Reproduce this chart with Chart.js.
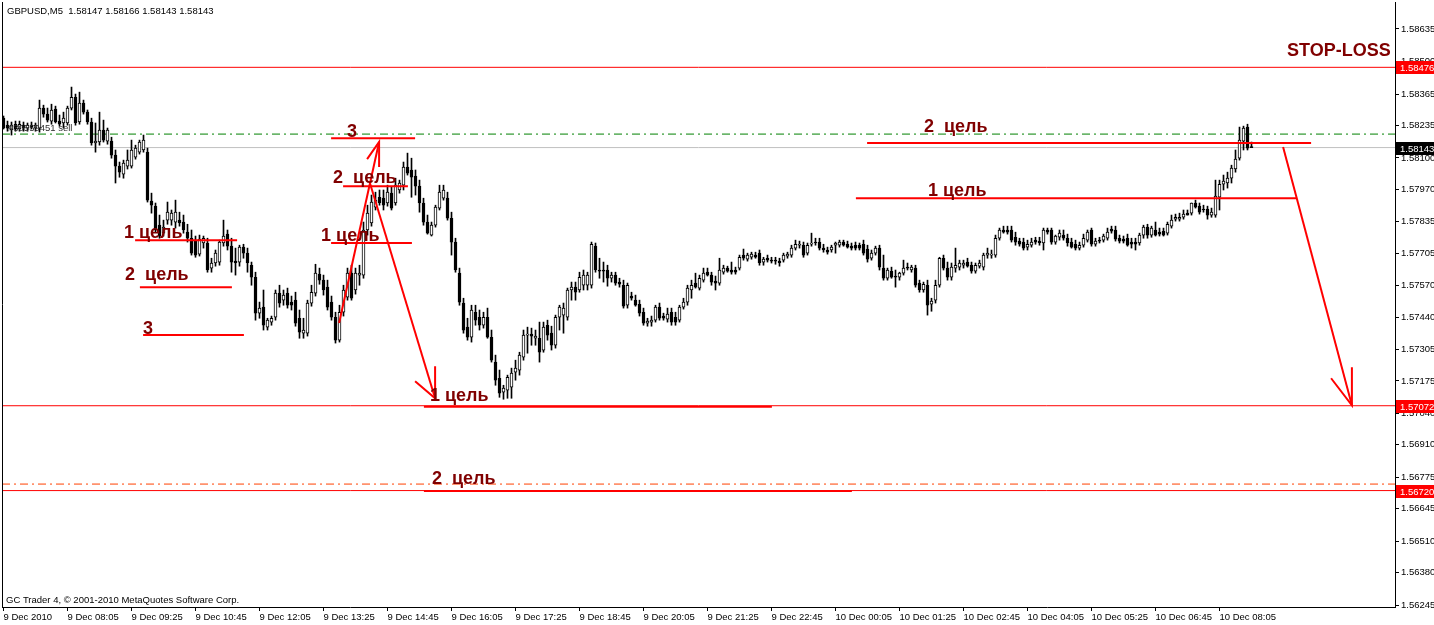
<!DOCTYPE html>
<html><head><meta charset="utf-8">
<script src="https://cdn.jsdelivr.net/npm/chart.js@4/dist/chart.umd.min.js"></script>
<style>html,body{margin:0;padding:0;background:#fff;overflow:hidden}canvas{display:block}</style>
</head><body>
<canvas id="c" width="1434" height="625"></canvas>
<script>
// ---- GBPUSD M5 candles (bar 0 = 9 Dec 2010 06:45, step 5 min) ----
const barOpen = [1.58265,1.58236,1.58216,1.58240,1.58220,1.58236,1.58224,1.58236,1.58224,1.58224,
1.58307,1.58282,1.58253,1.58303,1.58253,1.58245,1.58245,1.58307,1.58352,1.58249,
1.58328,1.58290,1.58249,1.58162,1.58166,1.58216,1.58170,1.58170,1.58112,1.58066,
1.58033,1.58066,1.58066,1.58103,1.58124,1.58133,1.58124,1.57921,1.57900,1.57821,
1.57788,1.57842,1.57842,1.57834,1.57842,1.57834,1.57792,1.57767,1.57759,1.57701,
1.57747,1.57747,1.57643,1.57664,1.57668,1.57747,1.57784,1.57734,1.57672,1.57668,
1.57730,1.57705,1.57655,1.57605,1.57456,1.57481,1.57398,1.57419,1.57439,1.57539,
1.57510,1.57539,1.57502,1.57510,1.57435,1.57373,1.57373,1.57498,1.57539,1.57618,
1.57593,1.57564,1.57502,1.57439,1.57344,1.57460,1.57522,1.57622,1.57552,1.57614,
1.57614,1.57801,1.57830,1.57896,1.57937,1.57933,1.57913,1.57954,1.57913,1.57967,
1.57987,1.58062,1.58050,1.58025,1.57983,1.57913,1.57834,1.57780,1.57821,1.57892,
1.57933,1.57933,1.57850,1.57751,1.57622,1.57498,1.57398,1.57356,1.57460,1.57439,
1.57406,1.57439,1.57356,1.57253,1.57186,1.57128,1.57137,1.57149,1.57211,1.57220,
1.57273,1.57365,1.57369,1.57352,1.57352,1.57303,1.57406,1.57373,1.57323,1.57439,
1.57448,1.57439,1.57552,1.57564,1.57552,1.57572,1.57572,1.57572,1.57734,1.57635,
1.57635,1.57635,1.57601,1.57614,1.57585,1.57572,1.57489,1.57527,1.57510,1.57493,
1.57460,1.57415,1.57419,1.57427,1.57481,1.57444,1.57431,1.57460,1.57439,1.57427,
1.57481,1.57502,1.57552,1.57581,1.57560,1.57593,1.57626,1.57614,1.57589,1.57581,
1.57626,1.57643,1.57635,1.57635,1.57643,1.57697,1.57680,1.57688,1.57697,1.57705,
1.57668,1.57684,1.57676,1.57676,1.57672,1.57676,1.57693,1.57697,1.57726,1.57738,
1.57738,1.57705,1.57742,1.57751,1.57751,1.57726,1.57718,1.57718,1.57738,1.57738,
1.57751,1.57742,1.57734,1.57738,1.57738,1.57742,1.57722,1.57684,1.57705,1.57726,
1.57643,1.57601,1.57630,1.57610,1.57605,1.57622,1.57647,1.57635,1.57643,1.57581,
1.57552,1.57572,1.57493,1.57510,1.57572,1.57684,1.57643,1.57605,1.57643,1.57647,
1.57655,1.57668,1.57655,1.57630,1.57651,1.57647,1.57697,1.57697,1.57697,1.57767,
1.57801,1.57801,1.57801,1.57771,1.57755,1.57751,1.57730,1.57738,1.57759,1.57755,
1.57747,1.57801,1.57801,1.57751,1.57771,1.57780,1.57767,1.57751,1.57742,1.57726,
1.57738,1.57759,1.57801,1.57742,1.57759,1.57759,1.57767,1.57805,1.57801,1.57767,
1.57763,1.57767,1.57751,1.57751,1.57747,1.57780,1.57813,1.57780,1.57801,1.57792,
1.57796,1.57788,1.57817,1.57846,1.57846,1.57854,1.57871,1.57871,1.57913,1.57900,
1.57888,1.57888,1.57863,1.57863,1.57937,1.57991,1.57996,1.58016,1.58054,1.58099,
1.58170,1.58228,1.58147];
const barHigh = [1.58274,1.58253,1.58249,1.58253,1.58253,1.58249,1.58245,1.58249,1.58245,1.58340,
1.58319,1.58307,1.58323,1.58315,1.58278,1.58290,1.58315,1.58394,1.58365,1.58373,
1.58340,1.58299,1.58265,1.58245,1.58290,1.58257,1.58224,1.58186,1.58133,1.58083,
1.58091,1.58133,1.58174,1.58153,1.58174,1.58195,1.58141,1.57954,1.57913,1.57863,
1.57842,1.57917,1.57884,1.57925,1.57875,1.57863,1.57825,1.57801,1.57776,1.57780,
1.57776,1.57767,1.57684,1.57718,1.57759,1.57842,1.57801,1.57767,1.57726,1.57738,
1.57742,1.57726,1.57668,1.57626,1.57502,1.57552,1.57435,1.57444,1.57552,1.57572,
1.57552,1.57560,1.57527,1.57543,1.57469,1.57435,1.57510,1.57572,1.57659,1.57643,
1.57614,1.57593,1.57527,1.57460,1.57489,1.57572,1.57643,1.57655,1.57643,1.57655,
1.57834,1.57904,1.57946,1.57958,1.57967,1.57967,1.57987,1.57979,1.58016,1.58008,
1.58083,1.58120,1.58099,1.58050,1.58008,1.57933,1.57863,1.57834,1.57904,1.57987,
1.57987,1.57958,1.57875,1.57767,1.57643,1.57518,1.57435,1.57489,1.57489,1.57469,
1.57460,1.57477,1.57386,1.57282,1.57220,1.57157,1.57199,1.57228,1.57261,1.57294,
1.57386,1.57398,1.57394,1.57386,1.57419,1.57419,1.57427,1.57402,1.57448,1.57489,
1.57498,1.57560,1.57585,1.57585,1.57626,1.57635,1.57626,1.57751,1.57747,1.57684,
1.57668,1.57655,1.57626,1.57626,1.57601,1.57593,1.57581,1.57543,1.57531,1.57510,
1.57477,1.57435,1.57444,1.57489,1.57498,1.57456,1.57477,1.57477,1.57460,1.57489,
1.57518,1.57572,1.57593,1.57622,1.57614,1.57643,1.57643,1.57626,1.57610,1.57684,
1.57655,1.57651,1.57668,1.57647,1.57697,1.57722,1.57705,1.57709,1.57709,1.57718,
1.57688,1.57697,1.57688,1.57688,1.57684,1.57705,1.57709,1.57738,1.57759,1.57755,
1.57751,1.57747,1.57788,1.57767,1.57767,1.57742,1.57730,1.57738,1.57751,1.57759,
1.57759,1.57755,1.57747,1.57751,1.57747,1.57759,1.57738,1.57718,1.57734,1.57738,
1.57697,1.57643,1.57647,1.57635,1.57626,1.57676,1.57664,1.57655,1.57655,1.57593,
1.57585,1.57593,1.57518,1.57593,1.57688,1.57697,1.57668,1.57664,1.57726,1.57676,
1.57676,1.57684,1.57668,1.57664,1.57676,1.57705,1.57726,1.57718,1.57780,1.57809,
1.57817,1.57817,1.57817,1.57792,1.57767,1.57767,1.57759,1.57767,1.57771,1.57771,
1.57809,1.57809,1.57809,1.57780,1.57801,1.57801,1.57784,1.57767,1.57759,1.57751,
1.57784,1.57801,1.57809,1.57767,1.57771,1.57784,1.57809,1.57817,1.57817,1.57780,
1.57776,1.57784,1.57767,1.57767,1.57788,1.57821,1.57825,1.57817,1.57834,1.57809,
1.57809,1.57834,1.57863,1.57867,1.57871,1.57884,1.57884,1.57913,1.57925,1.57913,
1.57904,1.57900,1.57892,1.58008,1.58008,1.58029,1.58041,1.58070,1.58133,1.58228,
1.58232,1.58240,1.58166];
const barLow = [1.58220,1.58211,1.58195,1.58211,1.58211,1.58211,1.58211,1.58220,1.58211,1.58207,
1.58269,1.58249,1.58240,1.58245,1.58232,1.58224,1.58236,1.58299,1.58236,1.58240,
1.58282,1.58240,1.58153,1.58124,1.58153,1.58166,1.58157,1.58099,1.57996,1.58020,
1.58016,1.58054,1.58058,1.58095,1.58116,1.58124,1.57917,1.57871,1.57792,1.57767,
1.57776,1.57825,1.57821,1.57809,1.57817,1.57788,1.57751,1.57697,1.57688,1.57693,
1.57726,1.57626,1.57626,1.57651,1.57655,1.57734,1.57718,1.57626,1.57614,1.57651,
1.57684,1.57626,1.57572,1.57427,1.57435,1.57386,1.57386,1.57406,1.57427,1.57481,
1.57489,1.57477,1.57469,1.57402,1.57352,1.57352,1.57361,1.57485,1.57527,1.57576,
1.57531,1.57469,1.57427,1.57332,1.57336,1.57444,1.57510,1.57510,1.57535,1.57572,
1.57601,1.57780,1.57817,1.57884,1.57904,1.57884,1.57900,1.57884,1.57904,1.57954,
1.57967,1.58029,1.57937,1.57946,1.57875,1.57821,1.57784,1.57776,1.57813,1.57884,
1.57925,1.57842,1.57697,1.57626,1.57489,1.57373,1.57344,1.57336,1.57406,1.57386,
1.57394,1.57352,1.57253,1.57157,1.57107,1.57099,1.57103,1.57103,1.57178,1.57199,
1.57261,1.57290,1.57323,1.57323,1.57253,1.57294,1.57344,1.57303,1.57311,1.57386,
1.57373,1.57427,1.57510,1.57510,1.57543,1.57552,1.57552,1.57560,1.57626,1.57601,
1.57585,1.57568,1.57585,1.57572,1.57564,1.57477,1.57477,1.57510,1.57485,1.57444,
1.57406,1.57402,1.57402,1.57419,1.57427,1.57427,1.57419,1.57406,1.57406,1.57419,
1.57473,1.57489,1.57518,1.57560,1.57552,1.57585,1.57610,1.57572,1.57552,1.57572,
1.57618,1.57626,1.57618,1.57618,1.57635,1.57676,1.57672,1.57680,1.57684,1.57655,
1.57655,1.57668,1.57664,1.57659,1.57651,1.57668,1.57684,1.57688,1.57718,1.57726,
1.57688,1.57697,1.57734,1.57738,1.57718,1.57709,1.57701,1.57709,1.57705,1.57730,
1.57734,1.57726,1.57718,1.57718,1.57718,1.57697,1.57668,1.57676,1.57697,1.57635,
1.57593,1.57593,1.57601,1.57564,1.57593,1.57614,1.57635,1.57626,1.57564,1.57543,
1.57543,1.57448,1.57464,1.57498,1.57564,1.57635,1.57593,1.57593,1.57626,1.57635,
1.57643,1.57647,1.57622,1.57622,1.57643,1.57635,1.57684,1.57684,1.57688,1.57759,
1.57788,1.57784,1.57751,1.57738,1.57734,1.57718,1.57718,1.57730,1.57742,1.57738,
1.57718,1.57784,1.57742,1.57742,1.57759,1.57759,1.57734,1.57726,1.57718,1.57718,
1.57730,1.57751,1.57734,1.57734,1.57747,1.57751,1.57759,1.57788,1.57755,1.57747,
1.57747,1.57734,1.57726,1.57718,1.57738,1.57767,1.57767,1.57771,1.57776,1.57776,
1.57776,1.57780,1.57809,1.57838,1.57838,1.57846,1.57863,1.57863,1.57892,1.57867,
1.57875,1.57846,1.57854,1.57854,1.57884,1.57967,1.57975,1.57996,1.58041,1.58091,
1.58133,1.58133,1.58143];
const barClose = [1.58224,1.58224,1.58236,1.58220,1.58240,1.58224,1.58236,1.58228,1.58236,1.58307,
1.58282,1.58257,1.58299,1.58249,1.58240,1.58265,1.58307,1.58352,1.58245,1.58328,
1.58290,1.58249,1.58162,1.58170,1.58216,1.58174,1.58216,1.58112,1.58066,1.58041,
1.58079,1.58091,1.58133,1.58141,1.58166,1.58174,1.57925,1.57904,1.57801,1.57776,
1.57813,1.57875,1.57871,1.57875,1.57830,1.57801,1.57767,1.57705,1.57697,1.57763,
1.57767,1.57635,1.57664,1.57705,1.57751,1.57776,1.57734,1.57668,1.57664,1.57730,
1.57705,1.57664,1.57605,1.57456,1.57477,1.57406,1.57427,1.57435,1.57539,1.57498,
1.57531,1.57489,1.57489,1.57415,1.57377,1.57386,1.57498,1.57543,1.57622,1.57593,
1.57552,1.57481,1.57439,1.57344,1.57460,1.57552,1.57622,1.57518,1.57622,1.57622,
1.57801,1.57871,1.57917,1.57925,1.57913,1.57904,1.57958,1.57892,1.57987,1.57996,
1.58062,1.58037,1.58020,1.57983,1.57913,1.57834,1.57788,1.57821,1.57896,1.57958,
1.57967,1.57850,1.57751,1.57635,1.57502,1.57386,1.57356,1.57469,1.57427,1.57406,
1.57439,1.57356,1.57261,1.57178,1.57124,1.57145,1.57190,1.57207,1.57228,1.57282,
1.57365,1.57369,1.57361,1.57361,1.57294,1.57398,1.57365,1.57323,1.57439,1.57481,
1.57477,1.57552,1.57564,1.57543,1.57605,1.57614,1.57614,1.57742,1.57635,1.57630,
1.57630,1.57601,1.57614,1.57581,1.57576,1.57485,1.57572,1.57518,1.57489,1.57456,
1.57415,1.57423,1.57427,1.57481,1.57435,1.57435,1.57452,1.57419,1.57419,1.57481,
1.57502,1.57560,1.57572,1.57564,1.57601,1.57622,1.57614,1.57585,1.57581,1.57635,
1.57643,1.57630,1.57626,1.57626,1.57688,1.57684,1.57697,1.57701,1.57688,1.57664,
1.57680,1.57676,1.57672,1.57672,1.57664,1.57697,1.57701,1.57726,1.57742,1.57742,
1.57697,1.57738,1.57747,1.57747,1.57726,1.57718,1.57709,1.57730,1.57747,1.57751,
1.57738,1.57730,1.57726,1.57726,1.57726,1.57705,1.57680,1.57705,1.57726,1.57647,
1.57601,1.57635,1.57605,1.57605,1.57622,1.57643,1.57643,1.57647,1.57572,1.57552,
1.57576,1.57489,1.57506,1.57572,1.57684,1.57643,1.57605,1.57647,1.57655,1.57664,
1.57664,1.57651,1.57630,1.57655,1.57664,1.57697,1.57705,1.57701,1.57767,1.57801,
1.57792,1.57792,1.57759,1.57751,1.57742,1.57726,1.57742,1.57751,1.57751,1.57747,
1.57801,1.57792,1.57751,1.57776,1.57788,1.57767,1.57747,1.57730,1.57726,1.57738,
1.57767,1.57792,1.57742,1.57755,1.57755,1.57776,1.57792,1.57796,1.57763,1.57755,
1.57755,1.57738,1.57742,1.57742,1.57780,1.57813,1.57780,1.57809,1.57780,1.57784,
1.57780,1.57825,1.57842,1.57854,1.57854,1.57867,1.57863,1.57913,1.57896,1.57875,
1.57884,1.57863,1.57875,1.57942,1.57991,1.58004,1.58016,1.58058,1.58095,1.58174,
1.58224,1.58141,1.58143];

// ---- axes ----
const xTickIndex = [0,16,32,48,64,80,96,112,128,144,160,176,192,208,224,240,256,272,288,304];
const xTickLabels = ['9 Dec 2010','9 Dec 08:05','9 Dec 09:25','9 Dec 10:45','9 Dec 12:05','9 Dec 13:25',
'9 Dec 14:45','9 Dec 16:05','9 Dec 17:25','9 Dec 18:45','9 Dec 20:05','9 Dec 21:25','9 Dec 22:45',
'10 Dec 00:05','10 Dec 01:25','10 Dec 02:45','10 Dec 04:05','10 Dec 05:25','10 Dec 06:45','10 Dec 08:05'];
const yTickValues = [1.58635,1.58500,1.58365,1.58235,1.58100,1.57970,1.57835,1.57705,1.57570,1.57440,
1.57305,1.57175,1.57040,1.56910,1.56775,1.56645,1.56510,1.56380,1.56245];

// ---- horizontal price levels ----
const levelPrices = [1.58143, 1.58199, 1.58476, 1.57072, 1.56747, 1.56720];
const axisBoxPrices = [1.58476, 1.58143, 1.57072, 1.56720];

// ---- hand-drawn target lines (from bar, to bar, price) ----
const targetFrom = [32.9, 34.1, 34.9, 81.9, 84.9, 81.9, 105.1, 105.1, 215.9, 213.1];
const targetTo = [58.4, 57.1, 60.1, 102.9, 101.1, 102.1, 192.1, 212.1, 326.9, 323.4];
const targetPrice = [1.57759, 1.57564, 1.57365, 1.58182, 1.57983, 1.57747, 1.57068, 1.56718, 1.58162, 1.57933];

// ---- arrows (bar, price) ----
const arrowPaths = [
  [[83.9,1.57415],[93.9,1.58166]],
  [[90.9,1.58095],[93.9,1.58166],[93.9,1.58062]],
  [[91.6,1.57996],[107.9,1.57103]],
  [[102.9,1.57174],[107.9,1.57103],[107.9,1.57236]],
  [[319.9,1.58145],[337.1,1.57074]],
  [[331.9,1.57186],[337.1,1.57074],[337.1,1.57232]]
];

// ---- text notes (bar, price) ----
const noteText = ['1 цель','2  цель','3','3','2  цель','1 цель','1 цель','2  цель','2  цель','1 цель','STOP-LOSS'];
const noteBar = [30.1, 30.4, 34.9, 85.9, 82.4, 79.4, 106.6, 107.1, 230.1, 231.1, 320.9];
const notePrice = [1.57767, 1.57593, 1.57369, 1.58186, 1.57996, 1.57755, 1.57091, 1.56746, 1.58207, 1.57942, 1.58523];

const headerText = 'GBPUSD,M5  1.58147 1.58166 1.58143 1.58143';
const footerText = 'GC Trader 4, \u00a9 2001-2010 MetaQuotes Software Corp.';
const orderText = '#30559451 sell';

// ---------------- build ----------------
const xMin = -0.375, xMax = 347.875;
const yMin = 1.56237, yMax = 1.58747;
const FONT = 'Liberation Sans';

const levelStyle = [
  {c:'#c0c0c0', d:[]}, {c:'#008000', d:[8,4,2,4]}, {c:'#ff0000', d:[]},
  {c:'#ff0000', d:[]}, {c:'#ff4000', d:[8,4,2,4]}, {c:'#ff0000', d:[]}
];
const boxColors = ['#ff0000','#000000','#ff0000','#ff0000'];

const datasets = [];
levelPrices.forEach((p,k)=>{
  datasets.push({type:'line', data:[{x:xMin,y:p},{x:xMax,y:p}], borderColor:levelStyle[k].c,
    borderWidth:1, borderDash:levelStyle[k].d, pointRadius:0, fill:false, order:30});
});
datasets.push({type:'bar', data: barOpen.map((o,i)=>({x:i, y:[barLow[i], barHigh[i]]})),
  backgroundColor:'#000', borderWidth:0, barThickness:1, grouped:false, order:20});
datasets.push({type:'bar', data: barOpen.map((o,i)=>({x:i, y:[o, barClose[i]]})),
  backgroundColor: barOpen.map((o,i)=> barClose[i] >= o ? '#ffffff' : '#000000'),
  borderColor:'#000', borderWidth:1, borderSkipped:false, barThickness:3, grouped:false, order:19});
targetPrice.forEach((p,k)=>{
  datasets.push({type:'line', data:[{x:targetFrom[k],y:p},{x:targetTo[k],y:p}], borderColor:'#ff0000',
    borderWidth:2, pointRadius:0, fill:false, order:5});
});
arrowPaths.forEach(path=>{
  datasets.push({type:'line', data:path.map(q=>({x:q[0],y:q[1]})), borderColor:'#ff0000',
    borderWidth:2, pointRadius:0, fill:false, tension:0, order:4});
});

const overlay = {
  id:'overlay',
  afterDatasetsDraw(chart){
    const ctx = chart.ctx, xs = chart.scales.x, ys = chart.scales.y, a = chart.chartArea;
    ctx.save();
    ctx.fillStyle = '#800000';
    ctx.font = 'bold 18px "' + FONT + '"';
    ctx.textBaseline = 'alphabetic';
    noteText.forEach((t,k)=>{
      ctx.fillText(t, xs.getPixelForValue(noteBar[k]), ys.getPixelForValue(notePrice[k]));
    });
    ctx.fillStyle = '#000';
    ctx.font = '9.5px "' + FONT + '"';
    ctx.textBaseline = 'middle';
    ctx.fillText(headerText, a.left + 5, a.top + 9);
    ctx.fillText(footerText, a.left + 4, a.bottom - 7);
    ctx.fillStyle = '#303030';
    ctx.fillText(orderText, a.left + 6, ys.getPixelForValue(1.58199) - 6);
    ctx.restore();
  },
  afterDraw(chart){
    const ctx = chart.ctx, ys = chart.scales.y, a = chart.chartArea;
    ctx.save();
    ctx.strokeStyle = '#000'; ctx.lineWidth = 1;
    ctx.beginPath(); ctx.moveTo(a.left+0.5, a.top); ctx.lineTo(a.left+0.5, a.bottom); ctx.stroke();
    ctx.font = '9.5px "' + FONT + '"';
    ctx.textBaseline = 'middle';
    axisBoxPrices.forEach((p,k)=>{
      const py = Math.round(ys.getPixelForValue(p));
      ctx.fillStyle = boxColors[k];
      ctx.fillRect(a.right+1, py-6, 40, 13);
      ctx.fillStyle = '#fff';
      ctx.fillText(p.toFixed(5), a.right+5, py+1);
    });
    ctx.restore();
  }
};

new Chart(document.getElementById('c'), {
  type:'bar',
  data:{datasets},
  options:{
    responsive:false, animation:false, devicePixelRatio:1,
    layout:{padding:{left:2, top:2, right:0, bottom:0}},
    plugins:{legend:{display:false}, tooltip:{enabled:false}},
    scales:{
      x:{type:'linear', min:xMin, max:xMax, offset:false,
        afterBuildTicks: s => { s.ticks = xTickIndex.map(v=>({value:v})); },
        afterFit: s => { s.height = 18; s.paddingLeft = 0; s.paddingRight = 0; },
        grid:{display:true, drawOnChartArea:false, drawTicks:true, tickLength:4, color:'#000', offset:false},
        border:{display:true, color:'#000', width:1},
        ticks:{autoSkip:false, maxRotation:0, minRotation:0, align:'start', padding:1, color:'#000',
          font:{family:FONT, size:9.5}, callback:(v,idx)=> xTickLabels[idx]}
      },
      y:{position:'right', min:yMin, max:yMax,
        afterBuildTicks: s => { s.ticks = yTickValues.map(v=>({value:v})); },
        afterFit: s => { s.width = 39; s.paddingTop = 0; s.paddingBottom = 0; },
        grid:{display:true, drawOnChartArea:false, drawTicks:true, tickLength:4, color:'#000'},
        border:{display:true, color:'#000', width:1},
        ticks:{padding:2, color:'#000', font:{family:FONT, size:9.5}, callback: v => Number(v).toFixed(5)}
      }
    }
  },
  plugins:[overlay]
});
</script>
</body></html>
